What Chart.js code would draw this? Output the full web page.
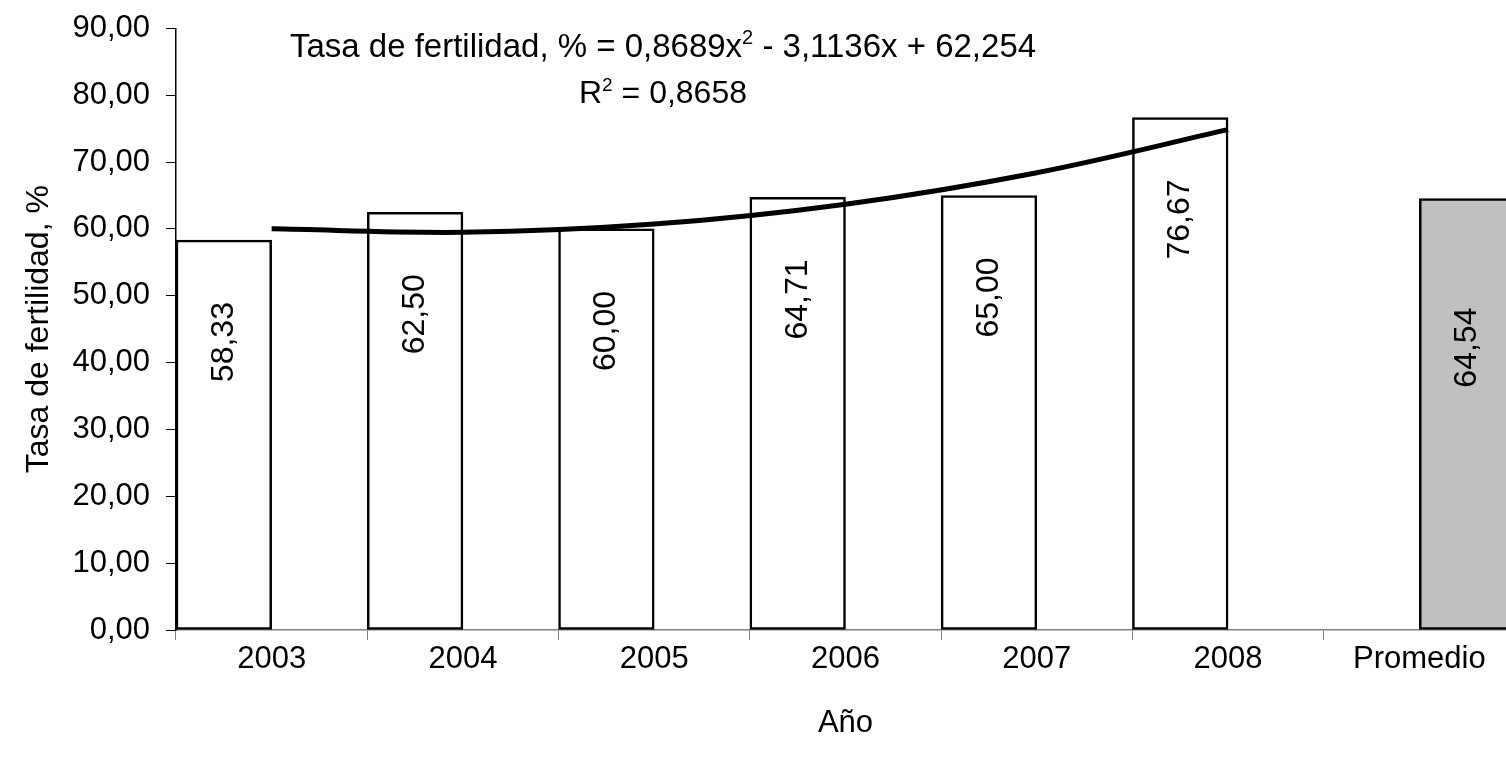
<!DOCTYPE html>
<html>
<head>
<meta charset="utf-8">
<script src="https://cdn.jsdelivr.net/npm/chart.js@4/dist/chart.umd.min.js"></script>
<style>
  html, body { margin: 0; padding: 0; background: #fff; overflow: hidden; }
  #wrap { width: 1506px; height: 762px; overflow: hidden; }
</style>
</head>
<body>
<div id="wrap"><canvas id="chart" width="1516" height="762"></canvas></div>
<script>
// ── Datos ─────────────────────────────────────────────────────────────────────
const categorias = ["2003", "2004", "2005", "2006", "2007", "2008", "Promedio"];
const tasaAnual = [58.33, 62.50, 60.00, 64.71, 65.00, 76.67, null];
const tasaPromedio = [null, null, null, null, null, null, 64.54];
// línea de tendencia polinómica, en el centro de cada año
const tendencia = [60.01, 59.50, 60.73, 63.70, 68.41, 74.85, null];
const yTicks = [0, 10, 20, 30, 40, 50, 60, 70, 80, 90];
const ecuacion = ["Tasa de fertilidad, % = 0,8689x", "2", " - 3,1136x + 62,254"];
const r2 = ["R", "2", " = 0,8658"];

const FONT = "'Liberation Sans', Arial, sans-serif";
const coma = v => v.toFixed(2).replace(".", ",");

// ── Etiquetas de datos verticales ─────────────────────────────────────────────
const etiquetas = {
  id: "etiquetas",
  afterDatasetsDraw(chart) {
    const ctx = chart.ctx;
    chart.data.datasets.forEach((ds, i) => {
      if (ds.type === "line") return;
      chart.getDatasetMeta(i).data.forEach((bar, j) => {
        const v = ds.data[j];
        if (v == null) return;
        ctx.save();
        ctx.translate(bar.x, bar.y + ds.labelOffset);
        ctx.rotate(-Math.PI / 2);
        ctx.font = "32px " + FONT;
        ctx.fillStyle = "#000";
        ctx.textAlign = "center";
        ctx.textBaseline = "middle";
        ctx.fillText(coma(v), 0, 0);
        ctx.restore();
      });
    });
  }
};

// ── Ecuación y R² ─────────────────────────────────────────────────────────────
function textoSup(ctx, partes, cx, y, size) {
  ctx.font = size + "px " + FONT;
  const a = ctx.measureText(partes[0]).width;
  const c = ctx.measureText(partes[2]).width;
  ctx.font = Math.round(size * 0.6) + "px " + FONT;
  const b = ctx.measureText(partes[1]).width;
  let x = cx - (a + b + c) / 2;
  ctx.textAlign = "left";
  ctx.textBaseline = "alphabetic";
  ctx.font = size + "px " + FONT;
  ctx.fillText(partes[0], x, y);
  x += a;
  ctx.font = Math.round(size * 0.6) + "px " + FONT;
  ctx.fillText(partes[1], x, y - size * 0.38);
  x += b;
  ctx.font = size + "px " + FONT;
  ctx.fillText(partes[2], x, y);
}

const ecuacionPlugin = {
  id: "ecuacion",
  afterDraw(chart) {
    const ctx = chart.ctx;
    ctx.save();
    ctx.fillStyle = "#000";
    textoSup(ctx, ecuacion, 663, 57, 33);
    textoSup(ctx, r2, 663, 103, 32);
    ctx.restore();
  }
};

// ── Gráfico ───────────────────────────────────────────────────────────────────
new Chart(document.getElementById("chart"), {
  type: "bar",
  data: {
    labels: categorias,
    datasets: [
      {
        type: "line",
        label: "Tendencia",
        data: tendencia,
        borderColor: "#000",
        borderWidth: 5,
        pointRadius: 0,
        tension: 0.35,
        fill: false,
        order: 0
      },
      {
        label: "Tasa de fertilidad, %",
        data: tasaAnual,
        backgroundColor: "#ffffff",
        borderColor: "#000",
        borderWidth: 2.5,
        borderSkipped: false,
        categoryPercentage: 1,
        barPercentage: 1,
        labelOffset: 102,
        order: 1
      },
      {
        label: "Promedio",
        data: tasaPromedio,
        backgroundColor: "#c0c0c0",
        borderColor: "#000",
        borderWidth: 2.5,
        borderSkipped: false,
        categoryPercentage: 1,
        barPercentage: 1,
        labelOffset: 149,
        order: 1
      }
    ]
  },
  options: {
    responsive: false,
    animation: false,
    layout: { padding: { top: 26, right: 1, left: 0, bottom: 20 } },
    plugins: { legend: { display: false }, tooltip: { enabled: false } },
    scales: {
      x: {
        offset: true,
        grid: { offset: true, drawOnChartArea: false, color: "#808080", tickLength: 10 },
        border: { color: "#808080", width: 1.5 },
        ticks: { color: "#000", font: { size: 31, family: FONT }, padding: 1, maxRotation: 0 },
        title: { display: true, text: "Año", color: "#000", font: { size: 31, family: FONT }, padding: { top: 0, bottom: 0 } },
        afterFit(s) { s.height = 112; }
      },
      y: {
        min: 0,
        max: 90,
        afterBuildTicks(s) { s.ticks = yTicks.map(v => ({ value: v })); },
        grid: { drawOnChartArea: false, color: "#000", tickLength: 10 },
        border: { color: "#000", width: 1.5 },
        ticks: { color: "#000", font: { size: 31, family: FONT, lineHeight: 0.8 }, padding: 16, callback: v => coma(v) },
        title: { display: true, text: "Tasa de fertilidad, %", color: "#000", font: { size: 32, family: FONT }, padding: { top: 20, bottom: 0 } },
        afterFit(s) { s.width = 176; }
      }
    }
  },
  plugins: [etiquetas, ecuacionPlugin]
});
</script>
</body>
</html>
